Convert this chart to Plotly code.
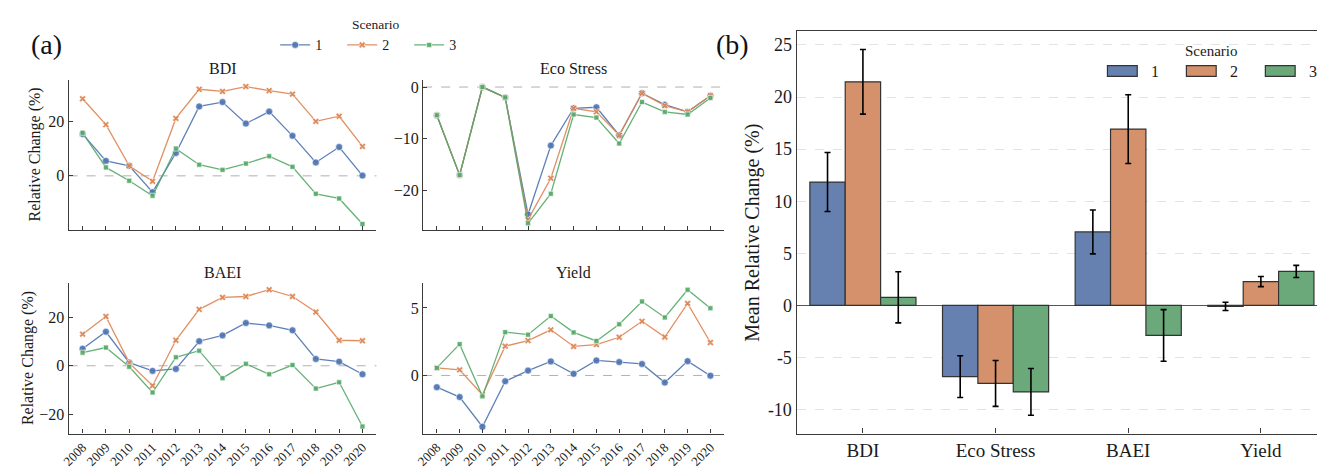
import plotly.graph_objects as go

# ---------------- data ----------------
years = [2008, 2009, 2010, 2011, 2012, 2013, 2014, 2015, 2016, 2017, 2018, 2019, 2020]
scenarios = ["1", "2", "3"]

bdi_s1 = [15.4, 5.5, 3.7, -6.0, 8.4, 25.5, 27.1, 19.2, 23.6, 14.7, 4.9, 10.6, 0.1]
bdi_s2 = [28.3, 18.8, 3.7, -2.0, 21.1, 31.8, 31.0, 32.8, 31.3, 30.0, 20.0, 21.9, 10.8]
bdi_s3 = [15.8, 3.1, -1.8, -7.3, 10.0, 4.1, 2.2, 4.5, 7.2, 3.3, -6.6, -8.3, -17.7]

eco_s1 = [-5.45, -17.0, 0.0, -2.0, -24.6, -11.3, -4.1, -3.9, -9.3, -1.2, -3.4, -4.8, -1.7]
eco_s2 = [-5.45, -17.0, 0.0, -2.0, -25.6, -17.6, -4.1, -4.8, -9.3, -1.2, -3.6, -4.8, -1.7]
eco_s3 = [-5.45, -17.0, 0.0, -2.0, -26.3, -20.6, -5.3, -5.9, -10.9, -2.9, -4.8, -5.3, -2.1]

baei_s1 = [7.0, 14.0, 1.3, -2.1, -1.3, 10.1, 12.5, 17.6, 16.6, 14.6, 2.8, 1.7, -3.5]
baei_s2 = [13.0, 20.3, 1.2, -8.2, 10.5, 23.2, 28.1, 28.5, 31.3, 28.5, 22.1, 10.5, 10.3]
baei_s3 = [5.4, 7.5, -0.4, -11.0, 3.5, 6.2, -5.1, 0.8, -3.5, 0.3, -9.4, -6.8, -25.0]

yield_s1 = [-0.87, -1.6, -3.8, -0.43, 0.36, 1.04, 0.12, 1.11, 0.99, 0.85, -0.53, 1.06, -0.02]
yield_s2 = [0.56, 0.41, -1.43, 2.17, 2.58, 3.38, 2.15, 2.29, 2.83, 4.01, 2.85, 5.34, 2.44]
yield_s3 = [0.56, 2.32, -1.55, 3.21, 3.02, 4.40, 3.19, 2.56, 3.79, 5.48, 4.30, 6.35, 4.98]

indicators = ["BDI", "Eco Stress", "BAEI", "Yield"]
mean_s1 = [11.84, -6.83, 7.05, -0.09]
mean_s2 = [21.46, -7.49, 16.92, 2.29]
mean_s3 = [0.78, -8.30, -2.88, 3.26]
err_s1 = [2.83, 2.0, 2.1, 0.4]
err_s2 = [3.1, 2.2, 3.3, 0.49]
err_s3 = [2.45, 2.24, 2.48, 0.58]

bar_yticks = [-10, -5, 0, 5, 10, 15, 20, 25]

# ---------------- styling ----------------
W, H = 1317, 469
FONT = "Liberation Serif, Times New Roman, serif"
line_colors = ["rgba(76,114,176,0.9)", "rgba(221,132,82,0.9)", "rgba(85,168,104,0.9)"]
bar_colors = ["#6681B0", "#D4916B", "#6BA97B"]
symbols = ["circle", "x", "square"]
msizes = [7, 6, 5]
AX = "#3a3a3a"
TXT = "#1a1a1a"


def px_x(a, b):
    return [a / W, b / W]


def px_y(top, bottom):
    return [1 - bottom / H, 1 - top / H]


fig = go.Figure()

line_panels = [
    ("BDI", [bdi_s1, bdi_s2, bdi_s3], "x", "y", [-19.9, 35.1], [0, 20]),
    ("Eco Stress", [eco_s1, eco_s2, eco_s3], "x2", "y2", [-27.6, 1.3], [-20, -10, 0]),
    ("BAEI", [baei_s1, baei_s2, baei_s3], "x3", "y3", [-27.9, 34.1], [-20, 0, 20]),
    ("Yield", [yield_s1, yield_s2, yield_s3], "x4", "y4", [-4.31, 6.86], [0, 5]),
]

for pi, (name, series, xa, ya, yr, yt) in enumerate(line_panels):
    for si, vals in enumerate(series):
        fig.add_trace(go.Scatter(
            x=years, y=vals, mode="lines+markers", name=scenarios[si],
            xaxis=xa, yaxis=ya, legend="legend", showlegend=(pi == 0),
            line=dict(color=line_colors[si], width=1.3),
            marker=dict(symbol=symbols[si], size=msizes[si], color=line_colors[si],
                        line=dict(color="white", width=0.6)),
        ))

bar_means = [mean_s1, mean_s2, mean_s3]
bar_errs = [err_s1, err_s2, err_s3]
for si in range(3):
    fig.add_trace(go.Bar(
        x=indicators, y=bar_means[si], name=scenarios[si],
        xaxis="x5", yaxis="y5", showlegend=False,
        marker=dict(color=bar_colors[si], line=dict(color="#333333", width=1.2)),
        error_y=dict(type="data", array=bar_errs[si], visible=True,
                     color="black", thickness=1.6, width=3),
    ))

# ---------------- axes ----------------
domains = {
    "x": px_x(60, 370), "y": px_y(80, 233),
    "x2": px_x(417, 720), "y2": px_y(80, 233),
    "x3": px_x(60, 370), "y3": px_y(287, 441),
    "x4": px_x(417, 720), "y4": px_y(287, 441),
}

layout = dict(
    width=W, height=H,
    margin=dict(l=0, r=0, t=0, b=0),
    paper_bgcolor="white", plot_bgcolor="white",
    font=dict(family=FONT, color=TXT, size=14),
    barmode="group", bargap=0.2, bargroupgap=0,
)

for i, (name, series, xa, ya, yr, yt) in enumerate(line_panels):
    xk = "xaxis" if xa == "x" else "xaxis" + xa[1:]
    yk = "yaxis" if ya == "y" else "yaxis" + ya[1:]
    bottom_row = i >= 2
    layout[xk] = dict(
        domain=domains[xa], anchor=ya, range=[2007.4, 2020.6],
        tickmode="array", tickvals=years,
        ticktext=[str(y) for y in years] if bottom_row else [""] * len(years),
        tickangle=-45,
        ticks="inside", ticklen=4, tickcolor=AX, tickwidth=1,
        showline=True, linecolor=AX, linewidth=1.2,
        showgrid=False, zeroline=False,
        tickfont=dict(size=13, family=FONT, color=TXT),
    )
    layout[yk] = dict(
        domain=domains[ya], anchor=xa, range=yr,
        tickmode="array", tickvals=yt,
        ticks="inside", ticklen=4, tickcolor=AX, tickwidth=1,
        showline=True, linecolor=AX, linewidth=1.2,
        showgrid=False, zeroline=False,
        tickfont=dict(size=16, family=FONT, color=TXT),
    )

layout["xaxis5"] = dict(
    domain=px_x(793, 1317), anchor="y5", range=[-0.5, 3.423],
    type="category",
    ticks="inside", ticklen=5, tickcolor=AX,
    showline=True, linecolor=AX, linewidth=1.2, mirror=True,
    showgrid=False, zeroline=False,
    tickfont=dict(size=19, family=FONT, color=TXT),
)
layout["yaxis5"] = dict(
    domain=px_y(30, 441), anchor="x5", range=[-12.3, 26.3],
    tickmode="array", tickvals=bar_yticks, ticktext=[str(v) for v in bar_yticks],
    ticks="", showline=True, linecolor=AX, linewidth=1.2,
    showgrid=True, gridcolor="#e3e3e3", griddash="dash", gridwidth=1,
    zeroline=True, zerolinecolor="#555555", zerolinewidth=1.3,
    tickfont=dict(size=18, family=FONT, color=TXT),
)

layout["legend"] = dict(
    orientation="h", x=268 / W, xanchor="left", y=1 - 10 / H, yanchor="top",
    title=dict(text="Scenario", side="top center", font=dict(size=13.5, family=FONT, color=TXT)),
    font=dict(size=14, family=FONT, color=TXT), bgcolor="rgba(0,0,0,0)",
    itemwidth=30, entrywidth=22, tracegroupgap=0,
)

fig.update_layout(**layout)

# zero reference lines for the line panels
for (name, series, xa, ya, yr, yt) in line_panels:
    fig.add_shape(type="line", xref=(xa + " domain"), yref=ya, x0=0, x1=1, y0=0, y1=0,
                  line=dict(color="#b0b0b0", width=1, dash="dash"), layer="below")

# subplot titles
title_pos = [(215, 68), (568, 68), (215, 276), (568, 276)]
for (name, *_), (tx, ty) in zip(line_panels, title_pos):
    fig.add_annotation(text=name, x=tx / W, y=1 - ty / H, xref="paper", yref="paper",
                       showarrow=False, font=dict(size=16, family=FONT, color=TXT),
                       xanchor="center", yanchor="middle")

# y-axis titles
for tx, ty in ((26, 156), (19, 364)):
    fig.add_annotation(text="Relative Change (%)", x=tx / W, y=1 - ty / H, xref="paper", yref="paper",
                       showarrow=False, textangle=-90, font=dict(size=16, family=FONT, color=TXT),
                       xanchor="center", yanchor="middle")
fig.add_annotation(text="Mean Relative Change (%)", x=749 / W, y=1 - 236 / H, xref="paper", yref="paper",
                   showarrow=False, textangle=-90, font=dict(size=20, family=FONT, color=TXT),
                   xanchor="center", yanchor="middle")

# legend for panel (b): patches + labels
fig.add_annotation(text="Scenario", x=1210 / W, y=1 - 50 / H, xref="paper", yref="paper",
                   showarrow=False, font=dict(size=15, family=FONT, color=TXT),
                   xanchor="center", yanchor="middle")
for si, lab in enumerate(scenarios):
    x0 = 1106 + si * 79.5
    fig.add_shape(type="rect", xref="paper", yref="paper",
                  x0=x0 / W, x1=(x0 + 30) / W, y0=1 - 76 / H, y1=1 - 65 / H,
                  fillcolor=bar_colors[si], line=dict(color="#333333", width=1.2))
    fig.add_annotation(text=lab, x=(x0 + 42) / W, y=1 - 71 / H, xref="paper", yref="paper",
                       showarrow=False, font=dict(size=16, family=FONT, color=TXT),
                       xanchor="left", yanchor="middle")

# panel labels
fig.add_annotation(text="(a)", x=38 / W, y=1 - 43 / H, xref="paper", yref="paper",
                   showarrow=False, font=dict(size=28, family=FONT, color="#111"),
                   xanchor="center", yanchor="middle")
fig.add_annotation(text="(b)", x=728 / W, y=1 - 43 / H, xref="paper", yref="paper",
                   showarrow=False, font=dict(size=28, family=FONT, color="#111"),
                   xanchor="center", yanchor="middle")

fig.write_html("out.html")
